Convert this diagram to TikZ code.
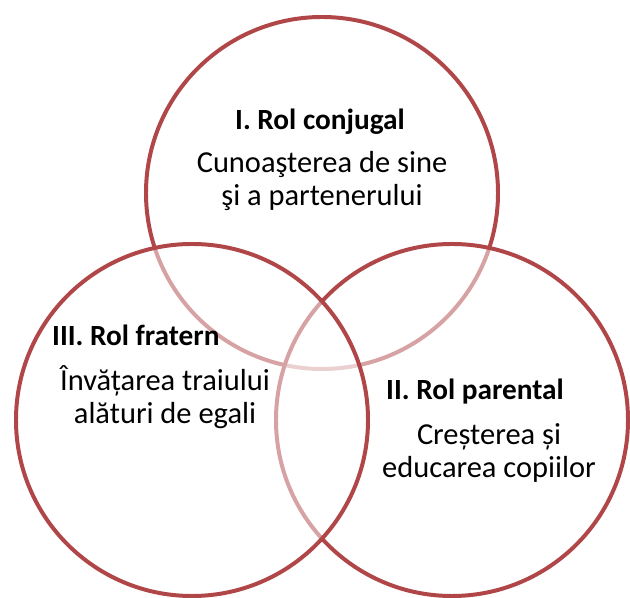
\documentclass[tikz,border=0pt]{standalone}
\usepackage{fontspec}
\setmainfont{Carlito}
\usepackage{tikz}
\definecolor{rolred}{RGB}{176,70,72}

\begin{document}
\begin{tikzpicture}[x=0.03cm,y=-0.03cm,
    rol/.style={circle,draw=rolred,line width=3.4pt,fill=white,fill opacity=0.5,draw opacity=1,minimum size=10.56cm,inner sep=0pt},
    titlu/.style={font=\fontsize{25}{28}\selectfont\bfseries,inner sep=0pt},
    descr/.style={font=\fontsize{26}{28}\selectfont,align=center,inner sep=0pt}]
    \useasboundingbox (0,0) rectangle (630,598);
    \coordinate (conj) at (322,193);
    \coordinate (frat) at (192,420);
    \coordinate (par) at (452,420);

    \node[rol] (cconj) at (conj) {};
    \node[rol] (cpar) at (par) {};
    \node[rol] (cfrat) at (frat) {};

    \node[titlu] (tconj) at (320,122) {I. Rol conjugal};
    \node[descr] (dconj) at (322,181) {Cunoaşterea de sine\\şi a partenerului};
    \node[titlu,anchor=west] (tfrat) at (52,335) {III. Rol fratern};
    \node[descr] (dfrat) at (165,397) {Învățarea traiului\\alături de egali};
    \node[titlu] (tpar) at (475,392) {II. Rol parental};
    \node[descr] (dpar) at (489,453) {Creșterea și\\educarea copiilor};
\end{tikzpicture}
\end{document}
